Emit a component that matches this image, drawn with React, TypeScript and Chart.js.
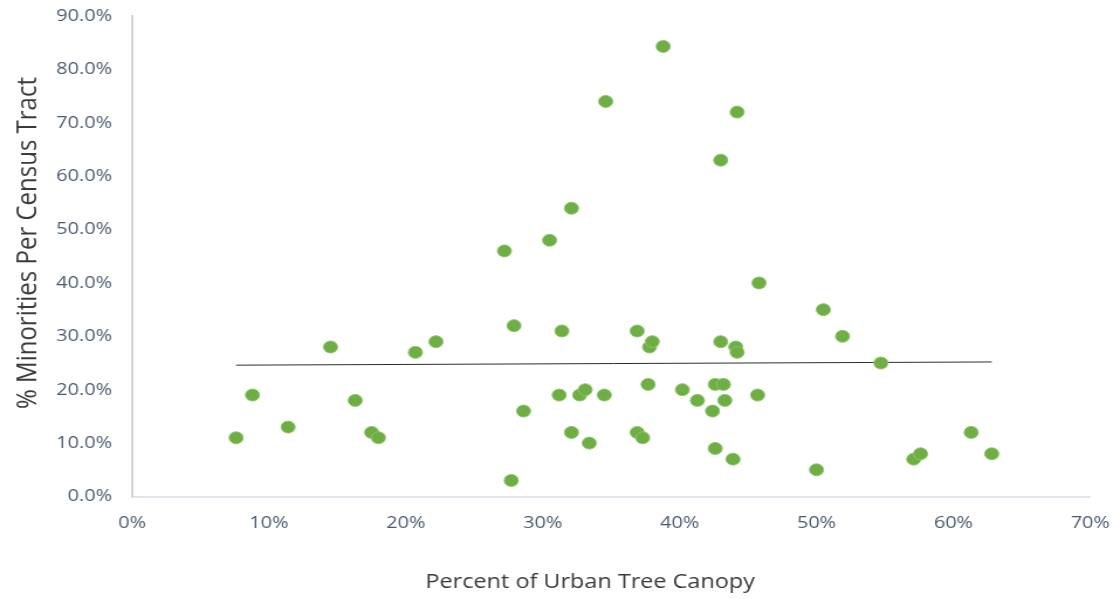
import React, { useEffect, useRef } from "react";
import { Chart, registerables } from "chart.js";

Chart.register(...registerables);

const canopyPct: number[] = [
  7.6, 8.8, 11.4, 14.5, 16.3, 17.5, 18.0, 20.7, 22.2, 27.2, 27.7, 27.9, 28.6, 30.5,
  31.2, 31.4, 32.1, 32.1, 32.7, 33.1, 33.4, 34.5, 34.6, 36.9, 36.9, 37.3, 37.7, 37.8,
  38.0, 38.8, 40.2, 41.3, 42.4, 42.6, 42.6, 43.0, 43.0, 43.2, 43.3, 43.9, 44.1, 44.2,
  44.2, 45.7, 45.8, 50.0, 50.5, 51.9, 54.7, 57.1, 57.6, 61.3, 62.8,
];
const minorityPct: number[] = [
  11, 19, 13, 28, 18, 12, 11, 27, 29, 46, 3, 32, 16, 48,
  19, 31, 54, 12, 19, 20, 10, 19, 74, 12, 31, 11, 21, 28,
  29, 84.3, 20, 18, 16, 9, 21, 29, 63, 21, 18, 7, 28, 27,
  72, 19, 40, 5, 35, 30, 25, 7, 8, 12, 8,
];
const trendX: number[] = [7.6, 62.8];
const trendY: number[] = [24.6, 25.2];

const xTitle = "Percent of Urban Tree Canopy";
const yTitle = "% Minorities Per Census Tract";
const FONT = "'Open Sans', 'Noto Sans', sans-serif";

// The reference is horizontally stretched; draw on a narrower canvas and stretch via CSS.
const CSS_W = 1120;
const CSS_H = 599;
const STRETCH = 1.17;
const W = Math.round(CSS_W / STRETCH);

const titlePlugin = {
  id: "axisTitles",
  afterDraw(chart: any) {
    const { ctx } = chart;
    ctx.save();
    ctx.fillStyle = "#3a3a3a";
    ctx.textAlign = "center";
    ctx.textBaseline = "middle";
    ctx.font = `20px ${FONT}`;
    ctx.fillText(xTitle, 590 / STRETCH, 582);
    ctx.translate(28 / STRETCH, 243);
    ctx.rotate(-Math.PI / 2);
    ctx.font = `24px ${FONT}`;
    ctx.fillText(yTitle, 0, 0);
    ctx.restore();
  },
};

export default function App() {
  const ref = useRef<HTMLCanvasElement>(null);
  useEffect(() => {
    if (!ref.current) return;
    const chart = new Chart(ref.current, {
      type: "scatter",
      data: {
        datasets: [
          {
            type: "line",
            label: "Trend",
            data: trendX.map((x, i) => ({ x, y: trendY[i] })),
            borderColor: "#2b2b2b",
            borderWidth: 1,
            pointRadius: 0,
            fill: false,
            order: 2,
          } as any,
          {
            label: "Tracts",
            data: canopyPct.map((x, i) => ({ x, y: minorityPct[i] })),
            backgroundColor: "#6fad45",
            borderColor: "#8cc56a",
            borderWidth: 1,
            pointRadius: 6,
            pointHoverRadius: 6,
            order: 1,
          },
        ],
      },
      options: {
        animation: false,
        responsive: false,
        devicePixelRatio: 1,
        layout: { padding: { top: 16, right: W - 1090 / STRETCH, left: 0, bottom: 0 } },
        plugins: { legend: { display: false }, tooltip: { enabled: false }, title: { display: false } },
        scales: {
          x: {
            type: "linear",
            min: 0,
            max: 70,
            afterFit: (s: any) => {
              s.height = 102.5;
              s.paddingLeft = 0;
              s.paddingRight = 0;
            },
            grid: { display: false, drawTicks: false },
            border: { display: true, color: "#e1e4ea", width: 2 },
            ticks: {
              stepSize: 10,
              padding: 16,
              color: "#4b5a70",
              font: { family: FONT, size: 17 },
              callback: (v: any) => `${v}%`,
            },
          },
          y: {
            type: "linear",
            min: 0,
            max: 90,
            afterFit: (s: any) => {
              s.width = 132 / STRETCH;
              s.paddingTop = 0;
              s.paddingBottom = 0;
            },
            grid: { display: false, drawTicks: false },
            border: { display: true, color: "#cdd3de", width: 2 },
            ticks: {
              stepSize: 10,
              padding: 20 / STRETCH,
              color: "#4b5a70",
              font: { family: FONT, size: 17 },
              callback: (v: any) => `${Number(v).toFixed(1)}%`,
            },
          },
        },
      },
      plugins: [titlePlugin],
    });
    return () => chart.destroy();
  }, []);
  return (
    <div style={{ position: "fixed", left: 0, top: 0, width: CSS_W, height: CSS_H, background: "#fff" }}>
      <canvas
        ref={ref}
        width={W}
        height={CSS_H}
        style={{ display: "block", width: CSS_W, height: CSS_H }}
      />
    </div>
  );
}
